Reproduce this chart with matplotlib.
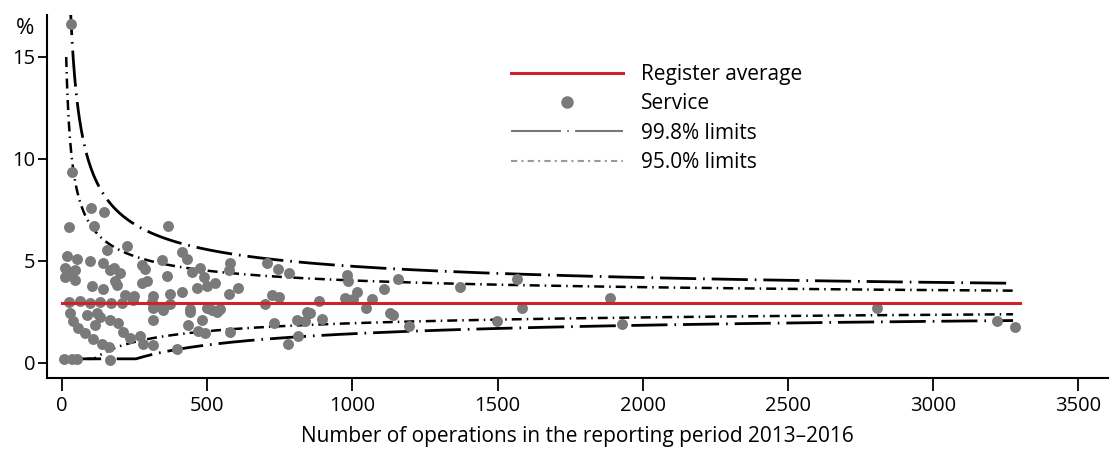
import numpy as np
import matplotlib
matplotlib.use("Agg")
import matplotlib.pyplot as plt
from matplotlib.lines import Line2D
from matplotlib.legend_handler import HandlerLine2D

plt.rcParams['font.family'] = ['Open Sans', 'DejaVu Sans']

# register average (%) and z values of the control limits
p_avg = 2.95
z_998 = 3.09
z_95 = 1.96
n_max = 3275

# services: number of operations and rate (%)
ops = [31, 33, 99, 145, 22, 110, 366, 155, 225, 412, 430, 343, 16, 51, 96, 142,
       177, 200, 274, 10, 33, 10, 45, 360, 447, 475, 487, 527, 579, 575, 607,
       705, 745, 780, 102, 142, 188, 217, 246, 275, 292, 314, 372, 412, 464,
       500, 573, 722, 748, 22, 62, 96, 131, 170, 205, 245, 309, 343, 372, 441,
       498, 533, 544, 699, 854, 837, 28, 39, 56, 79, 108, 137, 160, 85, 119,
       114, 165, 193, 210, 235, 269, 280, 314, 349, 314, 314, 395, 441, 481,
       515, 435, 469, 492, 579, 728, 779, 814, 808, 843, 883, 894, 980, 986,
       1015, 975, 1003, 1066, 1045, 1107, 1158, 1129, 1140, 1193, 1371, 1497,
       1566, 1583, 1887, 1927, 2806, 3220, 3280, 5, 33, 51, 165, 165, 183, 131,
       45, 285]
rate = [16.6, 9.35, 7.6, 7.4, 6.65, 6.7, 6.7, 5.55, 5.75, 5.45, 5.1, 5.05, 5.25,
        5.1, 5.0, 4.9, 4.65, 4.4, 4.8, 4.65, 4.45, 4.2, 4.05, 4.25, 4.45, 4.65,
        4.2, 3.9, 4.9, 4.55, 3.65, 4.9, 4.6, 4.4, 3.75, 3.6, 3.8, 3.35, 3.3, 3.9,
        4.0, 3.3, 3.4, 3.5, 3.65, 3.75, 3.4, 3.35, 3.25, 3.0, 3.05, 2.95, 3.0,
        2.95, 2.95, 3.1, 3.0, 2.75, 2.9, 2.65, 2.7, 2.5, 2.65, 2.9, 2.45, 2.05,
        2.45, 2.05, 1.7, 1.45, 1.15, 0.95, 0.8, 2.35, 2.45, 1.85, 2.1, 1.95, 1.5,
        1.2, 1.3, 0.95, 2.7, 2.6, 2.1, 0.9, 0.7, 2.5, 2.1, 2.6, 1.85, 1.55, 1.45,
        1.5, 1.95, 0.95, 1.3, 2.1, 2.5, 3.05, 2.15, 4.3, 4.0, 3.5, 3.2, 3.15,
        3.15, 2.7, 3.6, 4.1, 2.45, 2.35, 1.8, 3.7, 2.05, 4.1, 2.7, 3.2, 1.9, 2.7,
        2.05, 1.75, 0.2, 0.2, 0.2, 0.15, 4.55, 4.0, 2.25, 4.55, 4.6]


def limit(n, z):
    # binomial quantile with skew correction, as a rate in %
    p = p_avg / 100
    mu = n * p
    sd = np.sqrt(n * p * (1 - p))
    q = mu + z * sd + (z**2 - 1) * (1 - 2 * p) / 6
    return 100 * q / n


n = np.linspace(10, n_max, 1500)
n95 = np.linspace(14, n_max, 1500)

fig = plt.figure(figsize=(11.12, 4.5), dpi=100)
ax = fig.add_axes([0.0423, 0.16, 0.9541, 0.8067])

dash998 = (13, 2.5, 0.6, 2.5)
dash95 = (4, 2, 0.6, 2)
ax.plot(n, limit(n, z_998), color='black', lw=2, dashes=dash998)
ax.plot(n, np.maximum(limit(n, -z_998), 0.2), color='black', lw=2, dashes=dash998)
ax.plot(n95, limit(n95, z_95), color='black', lw=1.8, dashes=dash95)
ax.plot(n, np.maximum(limit(n, -z_95), 0.2), color='black', lw=1.8, dashes=dash95)

ax.scatter(ops, rate, s=62, color='#7a7a7a', linewidths=0, zorder=3)
ax.plot([0, 3300], [p_avg, p_avg], color='#d0202a', lw=2.2, zorder=4)

ax.set_xlim(-52, 3602)
ax.set_ylim(-0.74, 17.06)
ax.set_xticks(range(0, 3501, 500))
ax.set_yticks([0, 5, 10, 15])
for s in ['top', 'right']:
    ax.spines[s].set_visible(False)
for s in ['left', 'bottom']:
    ax.spines[s].set_linewidth(1.5)
ax.tick_params(axis='x', length=9, width=1.3, labelsize=14.5, pad=4)
ax.tick_params(axis='y', length=6.5, width=1.3, labelsize=14.5, pad=2)
ax.set_xlabel('Number of operations in the reporting period 2013\u20132016',
              fontsize=15, labelpad=7)
ax.text(-0.021, 0.962, '%', transform=ax.transAxes, fontsize=16,
        ha='center', va='center')


class RightDot(HandlerLine2D):
    def get_xdata(self, legend, xdescent, ydescent, width, height, fontsize):
        xdata, _ = super().get_xdata(legend, xdescent, ydescent, width, height, fontsize)
        return xdata, np.array([-xdescent + width - 5])


handles = [
    Line2D([], [], color='#d0202a', lw=2.2),
    Line2D([], [], color='#7a7a7a', marker='o', ls='none', markersize=8),
    Line2D([], [], color='#777777', lw=1.5, dashes=(24, 3, 0.8, 3)),
    Line2D([], [], color='#999999', lw=1.5, dashes=(3, 2, 1, 2)),
]
labels = ['Register average', 'Service', '99.8% limits', '95.0% limits']
ax.legend(handles, labels, loc='upper left', bbox_to_anchor=(0.437, 0.865),
          frameon=False, fontsize=15, handlelength=5.4, handletextpad=0.86,
          labelspacing=0.4, borderpad=0, borderaxespad=0,
          handler_map={handles[1]: RightDot(numpoints=1)})

fig.savefig('out.png', dpi=100)
